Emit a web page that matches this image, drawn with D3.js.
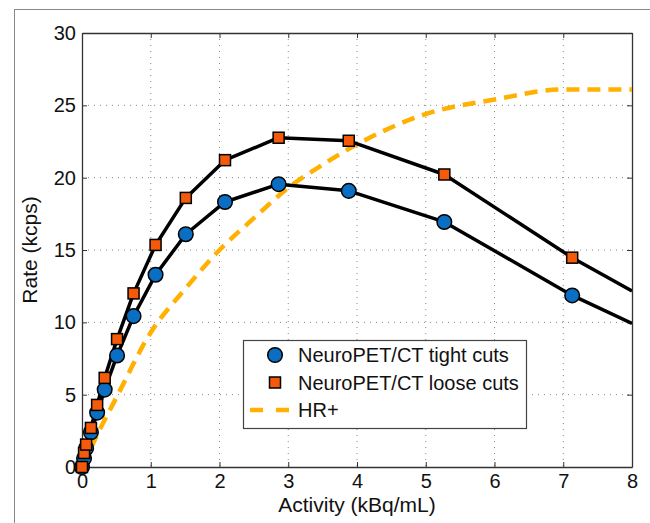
<!DOCTYPE html>
<html>
<head>
<meta charset="utf-8">
<script src="https://cdn.jsdelivr.net/npm/d3@7"></script>
<style>
  body { margin: 0; background: #fff; }
  svg { display: block; font-family: "Liberation Sans", Arial, sans-serif; }
</style>
</head>
<body>
<div id="chart"></div>
<script>
  // activity (kBq/mL) for the NeuroPET/CT measurements
  var activity = [0, 0.03, 0.06, 0.13, 0.22, 0.33, 0.51, 0.75, 1.07, 1.51, 2.08, 2.86, 3.88, 5.27, 7.13, 8];
  var tightCuts = [0, 0.6, 1.3, 2.4, 3.76, 5.35, 7.71, 10.43, 13.29, 16.09, 18.32, 19.55, 19.09, 16.94, 11.86, 9.92];
  var looseCuts = [0, 0.97, 1.55, 2.7, 4.29, 6.16, 8.84, 12.0, 15.35, 18.6, 21.21, 22.76, 22.55, 20.22, 14.47, 12.16];

  // HR+ curve
  var hrActivity = [0, 0.25, 0.5, 1, 1.5, 2, 2.5, 3, 3.5, 4, 5, 6, 7, 8];
  var hrRate = [0, 2.5, 4.8, 9.3, 12.3, 15.0, 17.2, 19.3, 20.9, 22.3, 24.4, 25.4, 26.1, 26.1];

  var xTicks = [0, 1, 2, 3, 4, 5, 6, 7, 8];
  var yTicks = [0, 5, 10, 15, 20, 25, 30];

  var legendItems = [
    { label: 'NeuroPET/CT tight cuts', type: 'circle' },
    { label: 'NeuroPET/CT loose cuts', type: 'square' },
    { label: 'HR+', type: 'dash' }
  ];

  var width = 650;
  var height = 523;
  var margins = { top: 33, right: 18, bottom: 56, left: 82 };
  var plotW = width - margins.left - margins.right;
  var plotH = height - margins.top - margins.bottom;

  var blue = '#0a6fc2';
  var orange = '#f45a0a';
  var yellow = '#ffb000';

  var svg = d3.select('#chart').append('svg')
    .attr('width', width)
    .attr('height', height);

  // outer figure frame
  svg.append('rect')
    .attr('x', 14.5).attr('y', 9.5)
    .attr('width', 700).attr('height', 600)
    .attr('fill', 'none')
    .attr('stroke', '#8a8a8a')
    .attr('stroke-width', 1);

  var x = d3.scaleLinear().domain([0, 8]).range([0, plotW]);
  var y = d3.scaleLinear().domain([0, 30]).range([plotH, 0]);

  var g = svg.append('g')
    .attr('transform', 'translate(' + margins.left + ',' + margins.top + ')');

  g.append('clipPath').attr('id', 'clip')
    .append('rect').attr('x', -8).attr('y', -8).attr('width', plotW + 8).attr('height', plotH + 16);

  // dotted grid
  g.selectAll('.vgrid')
    .data(xTicks.slice(1, -1))
    .enter().append('line')
      .attr('x1', function (d) { return x(d); })
      .attr('x2', function (d) { return x(d); })
      .attr('y1', 0).attr('y2', plotH)
      .attr('stroke', '#888').attr('stroke-width', 1)
      .attr('stroke-dasharray', '1,5');

  g.selectAll('.hgrid')
    .data(yTicks.slice(1, -1))
    .enter().append('line')
      .attr('y1', function (d) { return y(d); })
      .attr('y2', function (d) { return y(d); })
      .attr('x1', 0).attr('x2', plotW)
      .attr('stroke', '#888').attr('stroke-width', 1)
      .attr('stroke-dasharray', '1,5');

  // axes (ticks inward, box on all sides)
  var xAxis = g.append('g')
    .attr('transform', 'translate(0,' + plotH + ')')
    .call(d3.axisBottom(x).tickValues(xTicks).tickSizeInner(-5).tickSizeOuter(0).tickPadding(7));
  var yAxis = g.append('g')
    .call(d3.axisLeft(y).tickValues(yTicks).tickSizeInner(-5).tickSizeOuter(0).tickPadding(6));
  g.append('g')
    .call(d3.axisTop(x).tickValues(xTicks).tickSizeInner(-5).tickSizeOuter(0).tickFormat(''));
  g.append('g')
    .attr('transform', 'translate(' + plotW + ',0)')
    .call(d3.axisRight(y).tickValues(yTicks).tickSizeInner(-5).tickSizeOuter(0).tickFormat(''));

  g.selectAll('.domain').attr('stroke', '#333').attr('stroke-width', 1.3);
  g.selectAll('.tick line').attr('stroke', '#333');
  g.selectAll('.tick text').attr('font-size', 20).attr('fill', '#111')
    .attr('font-family', '"Liberation Sans", Arial, sans-serif');

  // axis titles
  g.append('text')
    .attr('x', plotW / 2)
    .attr('y', plotH + 45)
    .attr('text-anchor', 'middle')
    .attr('font-size', 21)
    .attr('fill', '#111')
    .text('Activity (kBq/mL)');

  g.append('text')
    .attr('transform', 'translate(' + (-45) + ',' + (plotH / 2) + ') rotate(-90)')
    .attr('text-anchor', 'middle')
    .attr('font-size', 21)
    .attr('fill', '#111')
    .text('Rate (kcps)');

  var plot = g.append('g').attr('clip-path', 'url(#clip)');

  var hrData = hrActivity.map(function (d, i) { return [d, hrRate[i]]; });
  var tightData = activity.map(function (d, i) { return [d, tightCuts[i]]; });
  var looseData = activity.map(function (d, i) { return [d, looseCuts[i]]; });

  var line = d3.line()
    .x(function (d) { return x(d[0]); })
    .y(function (d) { return y(d[1]); });

  // HR+ dashed curve
  plot.append('path')
    .datum(hrData)
    .attr('d', line.curve(d3.curveMonotoneX))
    .attr('fill', 'none')
    .attr('stroke', yellow)
    .attr('stroke-width', 4.5)
    .attr('stroke-dasharray', '13,8');

  line.curve(d3.curveLinear);

  [tightData, looseData].forEach(function (data) {
    plot.append('path')
      .datum(data)
      .attr('d', line)
      .attr('fill', 'none')
      .attr('stroke', '#000')
      .attr('stroke-width', 3.5)
      .attr('stroke-linejoin', 'round');
  });

  // markers (the last point only carries the line to the edge)
  var markerData = function (data) { return data.filter(function (d) { return d[0] < 8; }); };

  plot.selectAll('.tight')
    .data(markerData(tightData))
    .enter().append('circle')
      .attr('cx', function (d) { return x(d[0]); })
      .attr('cy', function (d) { return y(d[1]); })
      .attr('r', 7.3)
      .attr('fill', blue)
      .attr('stroke', '#000')
      .attr('stroke-width', 1.5);

  plot.selectAll('.loose')
    .data(markerData(looseData))
    .enter().append('rect')
      .attr('x', function (d) { return x(d[0]) - 5.5; })
      .attr('y', function (d) { return y(d[1]) - 5.5; })
      .attr('width', 11)
      .attr('height', 11)
      .attr('fill', orange)
      .attr('stroke', '#000')
      .attr('stroke-width', 1.5);

  // legend
  var legend = svg.append('g').attr('transform', 'translate(243,340)');
  legend.append('rect')
    .attr('x', 0.5).attr('y', 0.5)
    .attr('width', 283).attr('height', 88)
    .attr('fill', '#fff')
    .attr('stroke', '#444')
    .attr('stroke-width', 1.2);

  var rows = legend.selectAll('.item')
    .data(legendItems)
    .enter().append('g')
      .attr('transform', function (d, i) { return 'translate(0,' + (15 + i * 27.5) + ')'; });

  rows.each(function (d) {
    var r = d3.select(this);
    if (d.type === 'circle') {
      r.append('circle').attr('cx', 32).attr('cy', 0).attr('r', 7.3)
        .attr('fill', blue).attr('stroke', '#000').attr('stroke-width', 1.5);
    } else if (d.type === 'square') {
      r.append('rect').attr('x', 26.5).attr('y', -5.5).attr('width', 11).attr('height', 11)
        .attr('fill', orange).attr('stroke', '#000').attr('stroke-width', 1.5);
    } else {
      r.append('line').attr('x1', 7).attr('x2', 46).attr('y1', 0).attr('y2', 0)
        .attr('stroke', yellow).attr('stroke-width', 4.5).attr('stroke-dasharray', '13,13');
    }
  });

  rows.append('text')
    .attr('x', 55)
    .attr('y', 0)
    .attr('dy', '0.35em')
    .attr('font-size', 20)
    .attr('textLength', null)
    .attr('fill', '#111')
    .text(function (d) { return d.label; });
</script>
</body>
</html>
